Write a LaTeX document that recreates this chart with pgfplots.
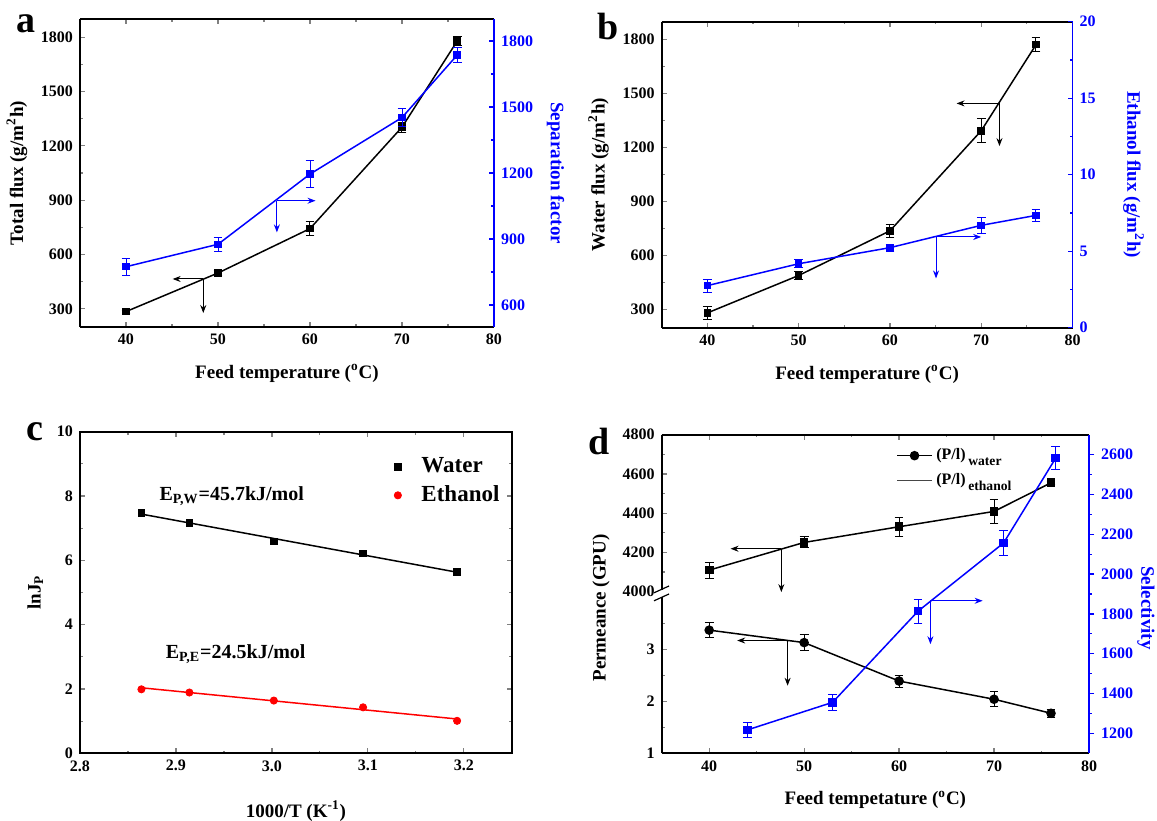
\documentclass[border=0pt]{standalone}
\usepackage{fontspec}
\setmainfont{Liberation Serif}
\usepackage{pgfplots}
\pgfplotsset{compat=1.18}
\usetikzlibrary{arrows.meta}

\definecolor{pblue}{RGB}{0,0,255}
\definecolor{pred}{RGB}{255,0,0}
\definecolor{lgray}{RGB}{70,70,70}

\tikzset{arr/.style={line width=0.5pt, -{Stealth[length=4pt,width=3pt]}}}

\pgfplotsset{
  base/.style={
    scale only axis, anchor=south west,
    font=\bfseries,
    tick label style={font=\bfseries\fontsize{8}{9}\selectfont},
    label style={font=\bfseries\fontsize{9.5}{11}\selectfont},
    /pgf/number format/assume math mode=true,
    /pgf/number format/set thousands separator={},
    tick align=inside,
    major tick length=2.5pt, minor tick length=1.4pt,
    axis line style={line width=0.9pt},
    tick style={line width=0.6pt},
    xlabel shift=3pt,
    clip=false,
  },
  tx/.style={xmin=35, xmax=80, xtick={40,50,60,70,80}, minor x tick num=1},
  dat/.style={line width=0.75pt, mark=square*, mark size=1.5pt, mark options={solid}},
  err/.style={error bars/y dir=both, error bars/y explicit,
    error bars/error bar style={line width=0.5pt},
    error bars/error mark options={rotate=90, mark size=2.2pt, line width=0.5pt}},
  rightax/.style={axis y line*=right, axis x line=none,
    y axis line style={pblue}, ytick style={pblue},
    yticklabel style={pblue}, ylabel style={pblue, rotate=180}},
}

\begin{document}
\begin{tikzpicture}[font=\bfseries]

% ---------- a ----------
\begin{axis}[base, tx, at={(40pt,246.5pt)}, width=207pt, height=154pt,
  ymin=200, ymax=1900, ytick={300,600,...,1800}, minor y tick num=1,
  axis y line*=left,
  xlabel={Feed temperature (\textsuperscript{o}C)},
  ylabel={Total flux (g/m\textsuperscript{2}h)}]
\addplot[black, dat, err] coordinates {
  (40,285) +- (0,8) (50,498) +- (0,15) (60,743) +- (0,38)
  (70,1303) +- (0,28) (76,1778) +- (0,24)};
\draw[arr] (axis cs:48.4,465) -- (axis cs:45.07,465);
\draw[arr] (axis cs:48.4,465) -- (axis cs:48.4,277);
\end{axis}
\begin{axis}[base, rightax, at={(40pt,246.5pt)}, width=207pt, height=154pt,
  xmin=35, xmax=80, ymin=500, ymax=1900, ytick={600,900,...,1800}, minor y tick num=1,
  ylabel={Separation factor}]
\addplot[pblue, dat, err] coordinates {
  (40,774) +- (0,39) (50,876) +- (0,31) (60,1195) +- (0,61)
  (70,1452) +- (0,41) (76,1736) +- (0,36)};
\draw[arr, pblue] (axis cs:56.4,1074) -- (axis cs:60.6,1074);
\draw[arr, pblue] (axis cs:56.4,1074) -- (axis cs:56.4,930);
\end{axis}

% ---------- b ----------
\begin{axis}[base, tx, at={(330.85pt,246.15pt)}, width=205.4pt, height=153pt,
  ymin=200, ymax=1900, ytick={300,600,...,1800}, minor y tick num=1,
  axis y line*=left,
  xlabel={Feed temperature (\textsuperscript{o}C)},
  ylabel={Water flux (g/m\textsuperscript{2}h)}]
\addplot[black, dat, err] coordinates {
  (40,282) +- (0,37) (50,490) +- (0,21) (60,738) +- (0,36)
  (70,1294) +- (0,66) (76,1772) +- (0,38)};
\draw[arr] (axis cs:72.0,1446) -- (axis cs:67.3,1446);
\draw[arr] (axis cs:72.0,1446) -- (axis cs:72.0,1209);
\end{axis}
\begin{axis}[base, rightax, at={(330.85pt,246.15pt)}, width=205.4pt, height=153pt,
  xmin=35, xmax=80, ymin=0, ymax=20, ytick={0,5,...,20}, minor y tick num=1,
  ylabel={Ethanol flux (g/m\textsuperscript{2}h)}, ylabel shift=7pt]
\addplot[pblue, dat, err] coordinates {
  (40,2.75) +- (0,0.42) (50,4.18) +- (0,0.27) (60,5.23) +- (0,0.24)
  (70,6.69) +- (0,0.53) (76,7.34) +- (0,0.39)};
\draw[arr, pblue] (axis cs:65.05,5.93) -- (axis cs:70.0,5.93);
\draw[arr, pblue] (axis cs:65.05,5.93) -- (axis cs:65.05,3.22);
\end{axis}

% ---------- c ----------
\begin{axis}[base, at={(40pt,33.35pt)}, width=215.9pt, height=160.8pt,
  xmin=2.8, xmax=3.25, ymin=0, ymax=10,
  xtick={2.8,2.9,3.0,3.1,3.2}, minor x tick num=1,
  ytick={0,2,4,6,8,10}, minor y tick num=1,
  x tick label style={/pgf/number format/fixed, /pgf/number format/fixed zerofill,
    /pgf/number format/precision=1},
  xlabel={1000/T (K\textsuperscript{-1})}, xlabel shift=8pt,
  ylabel={lnJ\textsubscript{P}},
  legend cell align=left,
  legend style={draw=none, fill=none, at={(0.713,0.945)}, anchor=north west,
    font=\bfseries\fontsize{11.5}{13}\selectfont, row sep=1pt}]
\addplot[black, line width=0.75pt, forget plot] coordinates {(2.864,7.438) (3.193,5.630)};
\addplot[pred, line width=0.75pt, forget plot] coordinates {(2.864,2.037) (3.193,1.067)};
\addplot[black, only marks, mark=square*, mark size=1.6pt] coordinates {
  (2.864,7.48) (2.914,7.17) (3.002,6.59) (3.095,6.21) (3.193,5.64)};
\addplot[pred, only marks, mark=*, mark size=1.8pt] coordinates {
  (2.864,1.99) (2.914,1.89) (3.002,1.64) (3.095,1.43) (3.193,1.01)};
\legend{\hspace{8pt}Water, \hspace{8pt}Ethanol}
\node[anchor=west, inner sep=0, font=\bfseries\fontsize{10}{12}\selectfont] at (axis cs:2.8825,8.0)
  {E\textsubscript{P,W}=45.7kJ/mol};
\node[anchor=west, inner sep=0, font=\bfseries\fontsize{10}{12}\selectfont] at (axis cs:2.889,3.08)
  {E\textsubscript{P,E}=24.5kJ/mol};
\end{axis}

% ---------- d ----------
\begin{axis}[base, tx, at={(330.85pt,33.35pt)}, width=213.65pt, height=80.3pt,
  ymin=1, ymax=4.09, ytick={1,2,3}, minor ytick={1.5,2.5,3.5},
  axis y line*=left, axis x line*=bottom,
  xlabel={Feed tempetature (\textsuperscript{o}C)}]
\addplot[black, dat, mark=*, mark size=2pt, err] coordinates {
  (40,3.37) +- (0,0.144) (50,3.13) +- (0,0.154) (60,2.39) +- (0,0.115)
  (70,2.04) +- (0,0.144) (76,1.77) +- (0,0.077)};
\draw[arr] (axis cs:48.26,3.17) -- (axis cs:42.95,3.17);
\draw[arr] (axis cs:48.26,3.17) -- (axis cs:48.26,2.30);
\end{axis}
\begin{axis}[base, tx, at={(330.85pt,113.65pt)}, width=213.65pt, height=79pt,
  ymin=3995, ymax=4800, ytick={4000,4200,...,4800}, minor y tick num=1,
  axis y line*=left, axis x line*=top, xticklabels={},
  legend cell align=left,
  legend style={draw=none, fill=none, at={(0.535,0.965)}, anchor=north west,
    font=\bfseries\fontsize{8}{9}\selectfont, row sep=1.5pt}]
\addlegendimage{black, line width=0.75pt, mark=*, mark size=2pt}
\addlegendimage{lgray, line width=0.7pt, no marks}
\addplot[black, dat, mark size=1.8pt, err, forget plot] coordinates {
  (40,4110) +- (0,41) (50,4251) +- (0,28) (60,4331) +- (0,49)
  (70,4409) +- (0,61) (76,4555) +- (0,8)};
\legend{(P/l)\,\raisebox{-3pt}{\fontsize{6.8}{7}\selectfont water},
        (P/l)\,\raisebox{-3pt}{\fontsize{6.8}{7}\selectfont ethanol}}
\draw[arr] (axis cs:47.6,4219) -- (axis cs:42.25,4219);
\draw[arr] (axis cs:47.6,4219) -- (axis cs:47.6,3998);
\end{axis}
\begin{axis}[base, rightax, tick align=outside, at={(330.85pt,33.35pt)}, width=213.65pt, height=159.3pt,
  xmin=35, xmax=80, ymin=1100, ymax=2700, ytick={1200,1400,...,2600}, minor y tick num=1]
\addplot[pblue, dat, mark size=1.8pt, err] coordinates {
  (44,1217) +- (0,36) (53,1356) +- (0,39) (62,1814) +- (0,60)
  (71,2156) +- (0,65) (76.5,2583) +- (0,59)};
\draw[arr, pblue] (axis cs:63.3,1866) -- (axis cs:68.8,1866);
\draw[arr, pblue] (axis cs:63.3,1866) -- (axis cs:63.3,1648);
\end{axis}
% axis break marks
\fill[white] (327.5pt,111.6pt) rectangle (334.2pt,115.2pt);
\draw[line width=0.6pt] (327pt,109.6pt) -- (334.5pt,113pt);
\draw[line width=0.6pt] (327pt,113.6pt) -- (334.5pt,117pt);
\node[rotate=90, font=\bfseries\fontsize{9.5}{11}\selectfont] at (300.5pt,106pt) {Permeance (GPU)};
\node[rotate=-90, pblue, font=\bfseries\fontsize{9.5}{11}\selectfont] at (573pt,106pt) {Selectivity};

% panel letters
\node[inner sep=0, font=\bfseries\fontsize{19}{20}\selectfont] at (13pt,398pt) {a};
\node[inner sep=0, font=\bfseries\fontsize{19}{20}\selectfont] at (304pt,396.5pt) {b};
\node[inner sep=0, font=\bfseries\fontsize{19}{20}\selectfont] at (17.5pt,194pt) {c};
\node[inner sep=0, font=\bfseries\fontsize{19}{20}\selectfont] at (299.5pt,189pt) {d};

\pgfresetboundingbox
\useasboundingbox (0,0) rectangle (578.5pt,410pt);
\end{tikzpicture}
\end{document}
